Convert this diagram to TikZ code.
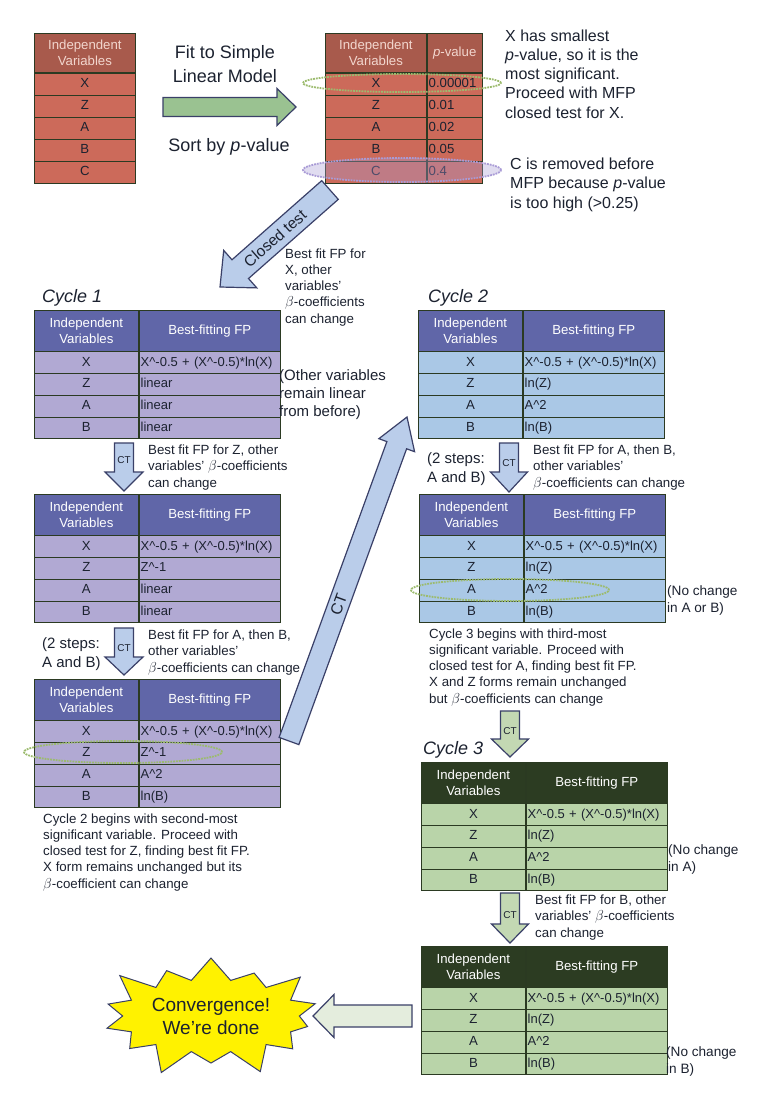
\documentclass[tikz,border=0pt]{standalone}
\usepackage{fontspec}
\setmainfont{Liberation Sans}
\usetikzlibrary{calc,shapes.symbols}

\definecolor{ink}{HTML}{1C2230}
\definecolor{gridline}{HTML}{2B3A22}
\definecolor{redrow}{HTML}{CC6A5A}
\definecolor{redhead}{HTML}{A85A4C}
\definecolor{redtext}{HTML}{F2D6CE}
\definecolor{bluehead}{HTML}{6066A8}
\definecolor{lavrow}{HTML}{B1A9D3}
\definecolor{skyrow}{HTML}{AAC8E6}
\definecolor{greenhead}{HTML}{2C3C22}
\definecolor{greenrow}{HTML}{B9D4A9}
\definecolor{arrowblue}{HTML}{BACDEA}
\definecolor{arrowgreen}{HTML}{C3D8B3}
\definecolor{arrowedge}{HTML}{3A4068}
\definecolor{ringgreen}{HTML}{9CBB6E}
\definecolor{ringpurple}{HTML}{A99BD6}
\definecolor{burst}{HTML}{FFF200}

\newcommand{\caret}{\textasciicircum}
\newcommand{\xform}{X\caret-0.5 + (X\caret-0.5)*ln(X)}

% fat arrow: style, tail, tip, half shaft, half head, head length
\newcommand{\fatarrow}[6]{%
  \coordinate (hb) at ($(#3)!#6!(#2)$);
  \draw[#1] ($(#2)!#4!90:(#3)$) -- ($(hb)!#4!-90:(#2)$) -- ($(hb)!#5!-90:(#2)$)
    -- (#3) -- ($(hb)!#5!90:(#2)$) -- ($(hb)!#4!90:(#2)$) -- ($(#2)!#4!-90:(#3)$) -- cycle;}

% FP table: name, left, top, head colour, row colour, Z, A, B
\newcommand{\fptable}[8]{%
  \node[headcell,fill=#4,minimum width=104pt,anchor=north west] (#1-h1) at (#2,#3) {Independent\\Variables};
  \node[headcell,fill=#4,minimum width=141pt,anchor=north west] (#1-h2) at (#1-h1.north east) {Best-fitting FP};
  \foreach \v/\f [count=\i from 0] in {X/\xform,Z/#6,A/#7,B/#8}{
    \node[varcell,fill=#5,anchor=north west] (#1-\v) at ($(#1-h1.south west)+(0,\i*21.75)$) {\v};
    \node[formcell,fill=#5,anchor=north west] (#1-\v-fp) at (#1-\v.north east) {\f};
  }}

\begin{document}
\begin{tikzpicture}[x=1pt,y=-1pt]
  \tikzstyle{cell}=[draw=gridline,line width=0.8pt,inner sep=0pt,text=ink,font=\fontsize{13.2}{16.5}\selectfont]
  \tikzstyle{headcell}=[cell,minimum height=40.5pt,text=white,align=center]
  \tikzstyle{varcell}=[cell,minimum width=104pt,minimum height=21.75pt,text height=9.6pt,text depth=2.6pt]
  \tikzstyle{formcell}=[varcell,minimum width=141pt,text width=138pt,inner xsep=1.5pt,align=left,font=\fontsize{13}{16}\selectfont]
  \tikzstyle{note}=[anchor=base west,align=left,inner sep=0pt,text=ink,font=\fontsize{13.3}{16.2}\selectfont]
  \tikzstyle{bignote}=[note,font=\fontsize{16}{19.2}\selectfont]
  \tikzstyle{sidenote}=[note,font=\fontsize{15}{18.5}\selectfont]
  \tikzstyle{smallside}=[note,font=\fontsize{13.6}{16.5}\selectfont]
  \tikzstyle{cycle}=[anchor=base west,inner sep=0pt,text=ink,font=\fontsize{18}{20}\selectfont\itshape]
  \tikzstyle{ring}=[line width=1.8pt,densely dotted]
  \tikzstyle{bluearrow}=[draw=arrowedge,line width=1.2pt,fill=arrowblue]
  \tikzstyle{greenarrow}=[draw=arrowedge,line width=1.2pt,fill=arrowgreen]
  \tikzstyle{ctlabel}=[inner sep=0pt,text=ink,font=\fontsize{10}{10}\selectfont]

  \fill[white] (0,0) rectangle (768,1111);
  \useasboundingbox (0,0) rectangle (768,1111);

  % starting variables
  \node[headcell,fill=redhead,text=redtext,minimum width=101pt,minimum height=39pt,anchor=north west] (start-h) at (34,33) {Independent\\Variables};
  \foreach \v [count=\i from 0] in {X,Z,A,B,C}
    \node[varcell,fill=redrow,minimum width=101pt,minimum height=22pt,anchor=north west] (start-\v) at ($(start-h.south west)+(0,\i*22)$) {\v};

  % sorted by p-value
  \node[headcell,fill=redhead,text=redtext,minimum width=101pt,minimum height=39pt,anchor=north west] (sort-h1) at (325,33) {Independent\\Variables};
  \node[headcell,fill=redhead,text=redtext,minimum width=55pt,minimum height=39pt,anchor=north west] (sort-h2) at (sort-h1.north east) {\textit{p}-value};
  \foreach \v/\p [count=\i from 0] in {X/0.00001,Z/0.01,A/0.02,B/0.05,C/0.4}{
    \node[varcell,fill=redrow,minimum width=101pt,minimum height=22pt,anchor=north west] (sort-\v) at ($(sort-h1.south west)+(0,\i*22)$) {\v};
    \node[varcell,fill=redrow,minimum width=55pt,minimum height=22pt,text width=52pt,inner xsep=1.5pt,align=left,anchor=north west] (sort-\v-p) at (sort-\v.north east) {\p};
  }
  \draw[ring,ringgreen] (402,83) ellipse (99pt and 9pt);
  \draw[ring,ringpurple,fill=ringpurple,fill opacity=0.35] (402,170) ellipse (99pt and 12pt);

  \coordinate (fitTail) at (163,107);
  \coordinate (fitTip) at (296,107);
  \fatarrow{greenarrow,fill=arrowgreen!85!green!70!gray}{fitTail}{fitTip}{9.5pt}{18.5pt}{19pt}
  \node[note,font=\fontsize{18}{24}\selectfont,align=center,anchor=base] (fitText) at (225,82) {Fit to Simple\\Linear Model};
  \node[note,font=\fontsize{18}{24}\selectfont,anchor=base] (sortText) at (229,151) {Sort by \textit{p}-value};

  \node[bignote] (xNote) at (505,118) {X has smallest\\\textit{p}-value, so it is the\\most significant.\\Proceed with MFP\\closed test for X.};
  \node[bignote] (cNote) at (510,208) {C is removed before\\MFP because \textit{p}-value\\is too high (>0.25)};

  % closed test into cycle 1
  \coordinate (closedTail) at (330,190);
  \coordinate (closedTip) at (220,287);
  \fatarrow{bluearrow}{closedTail}{closedTip}{12.5pt}{25pt}{27pt}
  \path (closedTail) -- (closedTip) node[pos=0.5,sloped,inner sep=0pt,text=ink,font=\fontsize{15.5}{16}\selectfont] (closedLbl) {Closed test};
  \node[note] (closedNote) at (285,323) {Best fit FP for\\X, other\\variables'\\$\beta$-coefficients\\can change};

  % cycle 1
  \node[cycle] (cycleOne) at (42,302) {Cycle 1};
  \fptable{c1a}{34}{310}{bluehead}{lavrow}{linear}{linear}{linear}
  \node[sidenote,font=\fontsize{15}{18}\selectfont] (otherNote) at (279,416) {(Other variables\\remain linear\\from before)};

  \coordinate (ct1Tail) at (124,443);
  \coordinate (ct1Tip) at (124,491);
  \fatarrow{bluearrow}{ct1Tail}{ct1Tip}{9.5pt}{19pt}{19pt}
  \node[ctlabel] (ct1) at (124,460) {CT};
  \node[note] (zNote) at (148,487) {Best fit FP for Z, other\\variables' $\beta$-coefficients\\can change};

  \fptable{c1b}{34}{494}{bluehead}{lavrow}{Z\caret-1}{linear}{linear}

  \coordinate (ct2Tail) at (124,628);
  \coordinate (ct2Tip) at (124,675);
  \fatarrow{bluearrow}{ct2Tail}{ct2Tip}{9.5pt}{19pt}{18pt}
  \node[ctlabel] (ct2) at (124,648) {CT};
  \node[sidenote] (stepsOne) at (42,667) {(2 steps:\\A and B)};
  \node[note] (abNote) at (148,672) {Best fit FP for A, then B,\\other variables'\\$\beta$-coefficients can change};

  \fptable{c1c}{34}{679}{bluehead}{lavrow}{Z\caret-1}{A\caret2}{ln(B)}
  \draw[ring,ringgreen] (123,752) ellipse (99pt and 11pt);
  \node[note] (cycleTwoNote) at (43,888) {Cycle 2 begins with second-most\\significant variable. Proceed with\\closed test for Z, finding best fit FP.\\X form remains unchanged but its\\$\beta$-coefficient can change};

  % back up to cycle 2
  \coordinate (upTail) at (289,741);
  \coordinate (upTip) at (407,417);
  \fatarrow{bluearrow}{upTail}{upTip}{10.5pt}{19pt}{30pt}
  \path (upTail) -- (upTip) node[pos=0.42,sloped,inner sep=0pt,text=ink,font=\fontsize{16}{16}\selectfont] (upLbl) {CT};

  % cycle 2
  \node[cycle] (cycleTwo) at (428,302) {Cycle 2};
  \fptable{c2a}{418}{310}{bluehead}{skyrow}{ln(Z)}{A\caret2}{ln(B)}

  \coordinate (ct3Tail) at (509,443);
  \coordinate (ct3Tip) at (509,492);
  \fatarrow{bluearrow}{ct3Tail}{ct3Tip}{9.5pt}{18.5pt}{20pt}
  \node[ctlabel] (ct3) at (509,463) {CT};
  \node[sidenote] (stepsTwo) at (427,482) {(2 steps:\\A and B)};
  \node[note] (abNoteTwo) at (533,487) {Best fit FP for A, then B,\\other variables'\\$\beta$-coefficients can change};

  \fptable{c2b}{419}{494}{bluehead}{skyrow}{ln(Z)}{A\caret2}{ln(B)}
  \draw[ring,ringgreen] (510,590) ellipse (99pt and 11pt);
  \node[smallside] (noChangeAB) at (667,612) {(No change\\in A or B)};
  \node[note] (cycleThreeNote) at (429,703) {Cycle 3 begins with third-most\\significant variable. Proceed with\\closed test for A, finding best fit FP.\\X and Z forms remain unchanged\\but $\beta$-coefficients can change};

  % cycle 3
  \coordinate (ct4Tail) at (510,711);
  \coordinate (ct4Tip) at (510,757);
  \fatarrow{greenarrow}{ct4Tail}{ct4Tip}{9.5pt}{18.5pt}{18pt}
  \node[ctlabel] (ct4) at (510,731) {CT};
  \node[cycle] (cycleThree) at (423,754) {Cycle 3};

  \fptable{c3a}{421}{762}{greenhead}{greenrow}{ln(Z)}{A\caret2}{ln(B)}
  \node[smallside] (noChangeA) at (668,871) {(No change\\in A)};

  \coordinate (ct5Tail) at (510,893);
  \coordinate (ct5Tip) at (510,943);
  \fatarrow{greenarrow}{ct5Tail}{ct5Tip}{9.5pt}{18.5pt}{19pt}
  \node[ctlabel] (ct5) at (510,915) {CT};
  \node[note] (bNote) at (535,937) {Best fit FP for B, other\\variables' $\beta$-coefficients\\can change};

  \fptable{c3b}{421}{946}{greenhead}{greenrow}{ln(Z)}{A\caret2}{ln(B)}
  \node[smallside] (noChangeB) at (666,1073) {(No change\\in B)};

  % done
  \node[starburst,starburst points=14,starburst point height=30pt,fill=burst,draw=arrowedge,line width=1pt,
        minimum width=205pt,minimum height=133pt,align=center,text=ink,font=\fontsize{19}{23}\selectfont] (done) at (211,1016) {Convergence!\\We're done};
  \coordinate (doneTail) at (412,1016);
  \coordinate (doneTip) at (313,1016);
  \fatarrow{greenarrow,fill=arrowgreen!45!white}{doneTail}{doneTip}{11pt}{21.5pt}{21pt}
\end{tikzpicture}
\end{document}
